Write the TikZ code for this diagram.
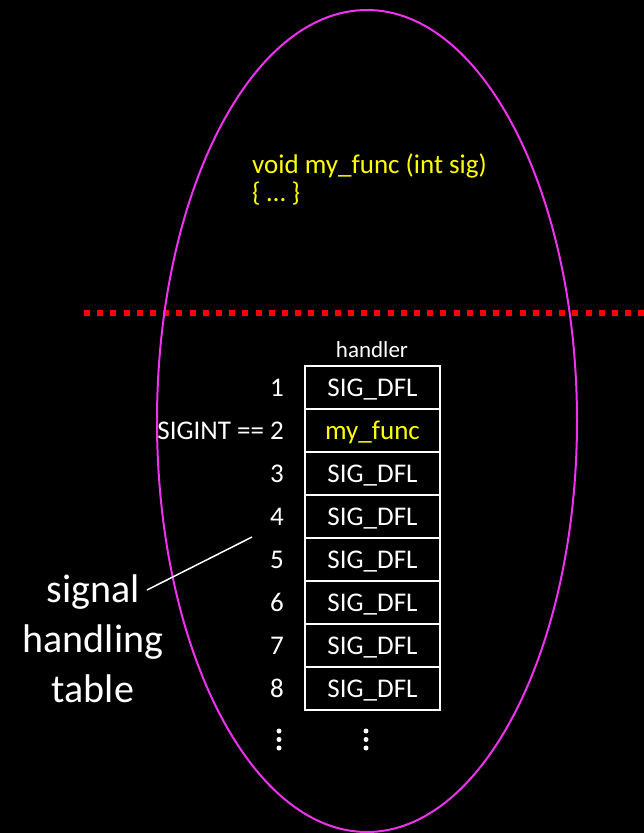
\documentclass[tikz,border=0pt]{standalone}
\usepackage{fontspec}
\setmainfont{Carlito}
\definecolor{ellcol}{RGB}{240,50,240}
\definecolor{yel}{RGB}{255,255,0}
\begin{document}
\begin{tikzpicture}[x=1pt,y=-1pt,
  cell/.style={draw=white, line width=2pt, minimum width=135pt, minimum height=43pt, inner sep=0pt,
     text height=17pt, text depth=0pt, font=\fontsize{27}{30}\selectfont, text=white},
  num/.style={anchor=base east, inner sep=0pt, font=\fontsize{27}{30}\selectfont, text=white},
  code/.style={anchor=base west, inner sep=0pt, font=\fontsize{27}{30}\selectfont, text=yel},
  big/.style={anchor=base, inner sep=0pt, font=\fontsize{40}{48}\selectfont, text=white},
  vdot/.style={circle, fill=white, inner sep=0pt, minimum size=5pt}]
\fill[black] (0,0) rectangle (644,833);
\useasboundingbox (0,0) rectangle (644,833);
% code text
\node[code] (c1) at (252,173) {void my\_func (int sig)};
\node[code] (c2) at (252,201) {\{ … \}};
% dotted separator
\coordinate (dl) at (84,313);
\coordinate (dr) at (650,313);
\draw[red, line width=6pt, dash pattern=on 6pt off 7.2pt] (dl) -- (dr);
% header
\node[anchor=base, inner sep=0pt, font=\fontsize{23}{26}\selectfont, text=white] (hd) at (372,357) {handler};
% table
\node[cell] (r1) at (372.5,387.5) {SIG\_DFL};
\node[cell, text=yel] (r2) at (372.5,430.5) {my\_func};
\node[cell] (r3) at (372.5,473.5) {SIG\_DFL};
\node[cell] (r4) at (372.5,516.5) {SIG\_DFL};
\node[cell] (r5) at (372.5,559.5) {SIG\_DFL};
\node[cell] (r6) at (372.5,602.5) {SIG\_DFL};
\node[cell] (r7) at (372.5,645.5) {SIG\_DFL};
\node[cell] (r8) at (372.5,688.5) {SIG\_DFL};
% numbers
\node[num] (n1) at (284,396) {1};
\node[num] (n2) at (284,439) {SIGINT == 2};
\node[num] (n3) at (284,482) {3};
\node[num] (n4) at (284,525) {4};
\node[num] (n5) at (284,568) {5};
\node[num] (n6) at (284,611) {6};
\node[num] (n7) at (284,654) {7};
\node[num] (n8) at (284,697) {8};
% vertical dots
\foreach \yy [count=\i] in {731,739.5,748}{
  \node[vdot] (da\i) at (279,\yy) {};
  \node[vdot] (db\i) at (366,\yy) {};
}
% ellipse
\draw[ellcol, line width=2pt] (367,421) ellipse [x radius=210pt, y radius=411pt];
% label
\node[big] (s1) at (93,602) {signal};
\node[big] (s2) at (93,652) {handling};
\node[big] (s3) at (93,702) {table};
\coordinate (ls) at (147,590);
\coordinate (le) at (252,537);
\draw[white, line width=1.5pt] (ls) -- (le);
\end{tikzpicture}
\end{document}
